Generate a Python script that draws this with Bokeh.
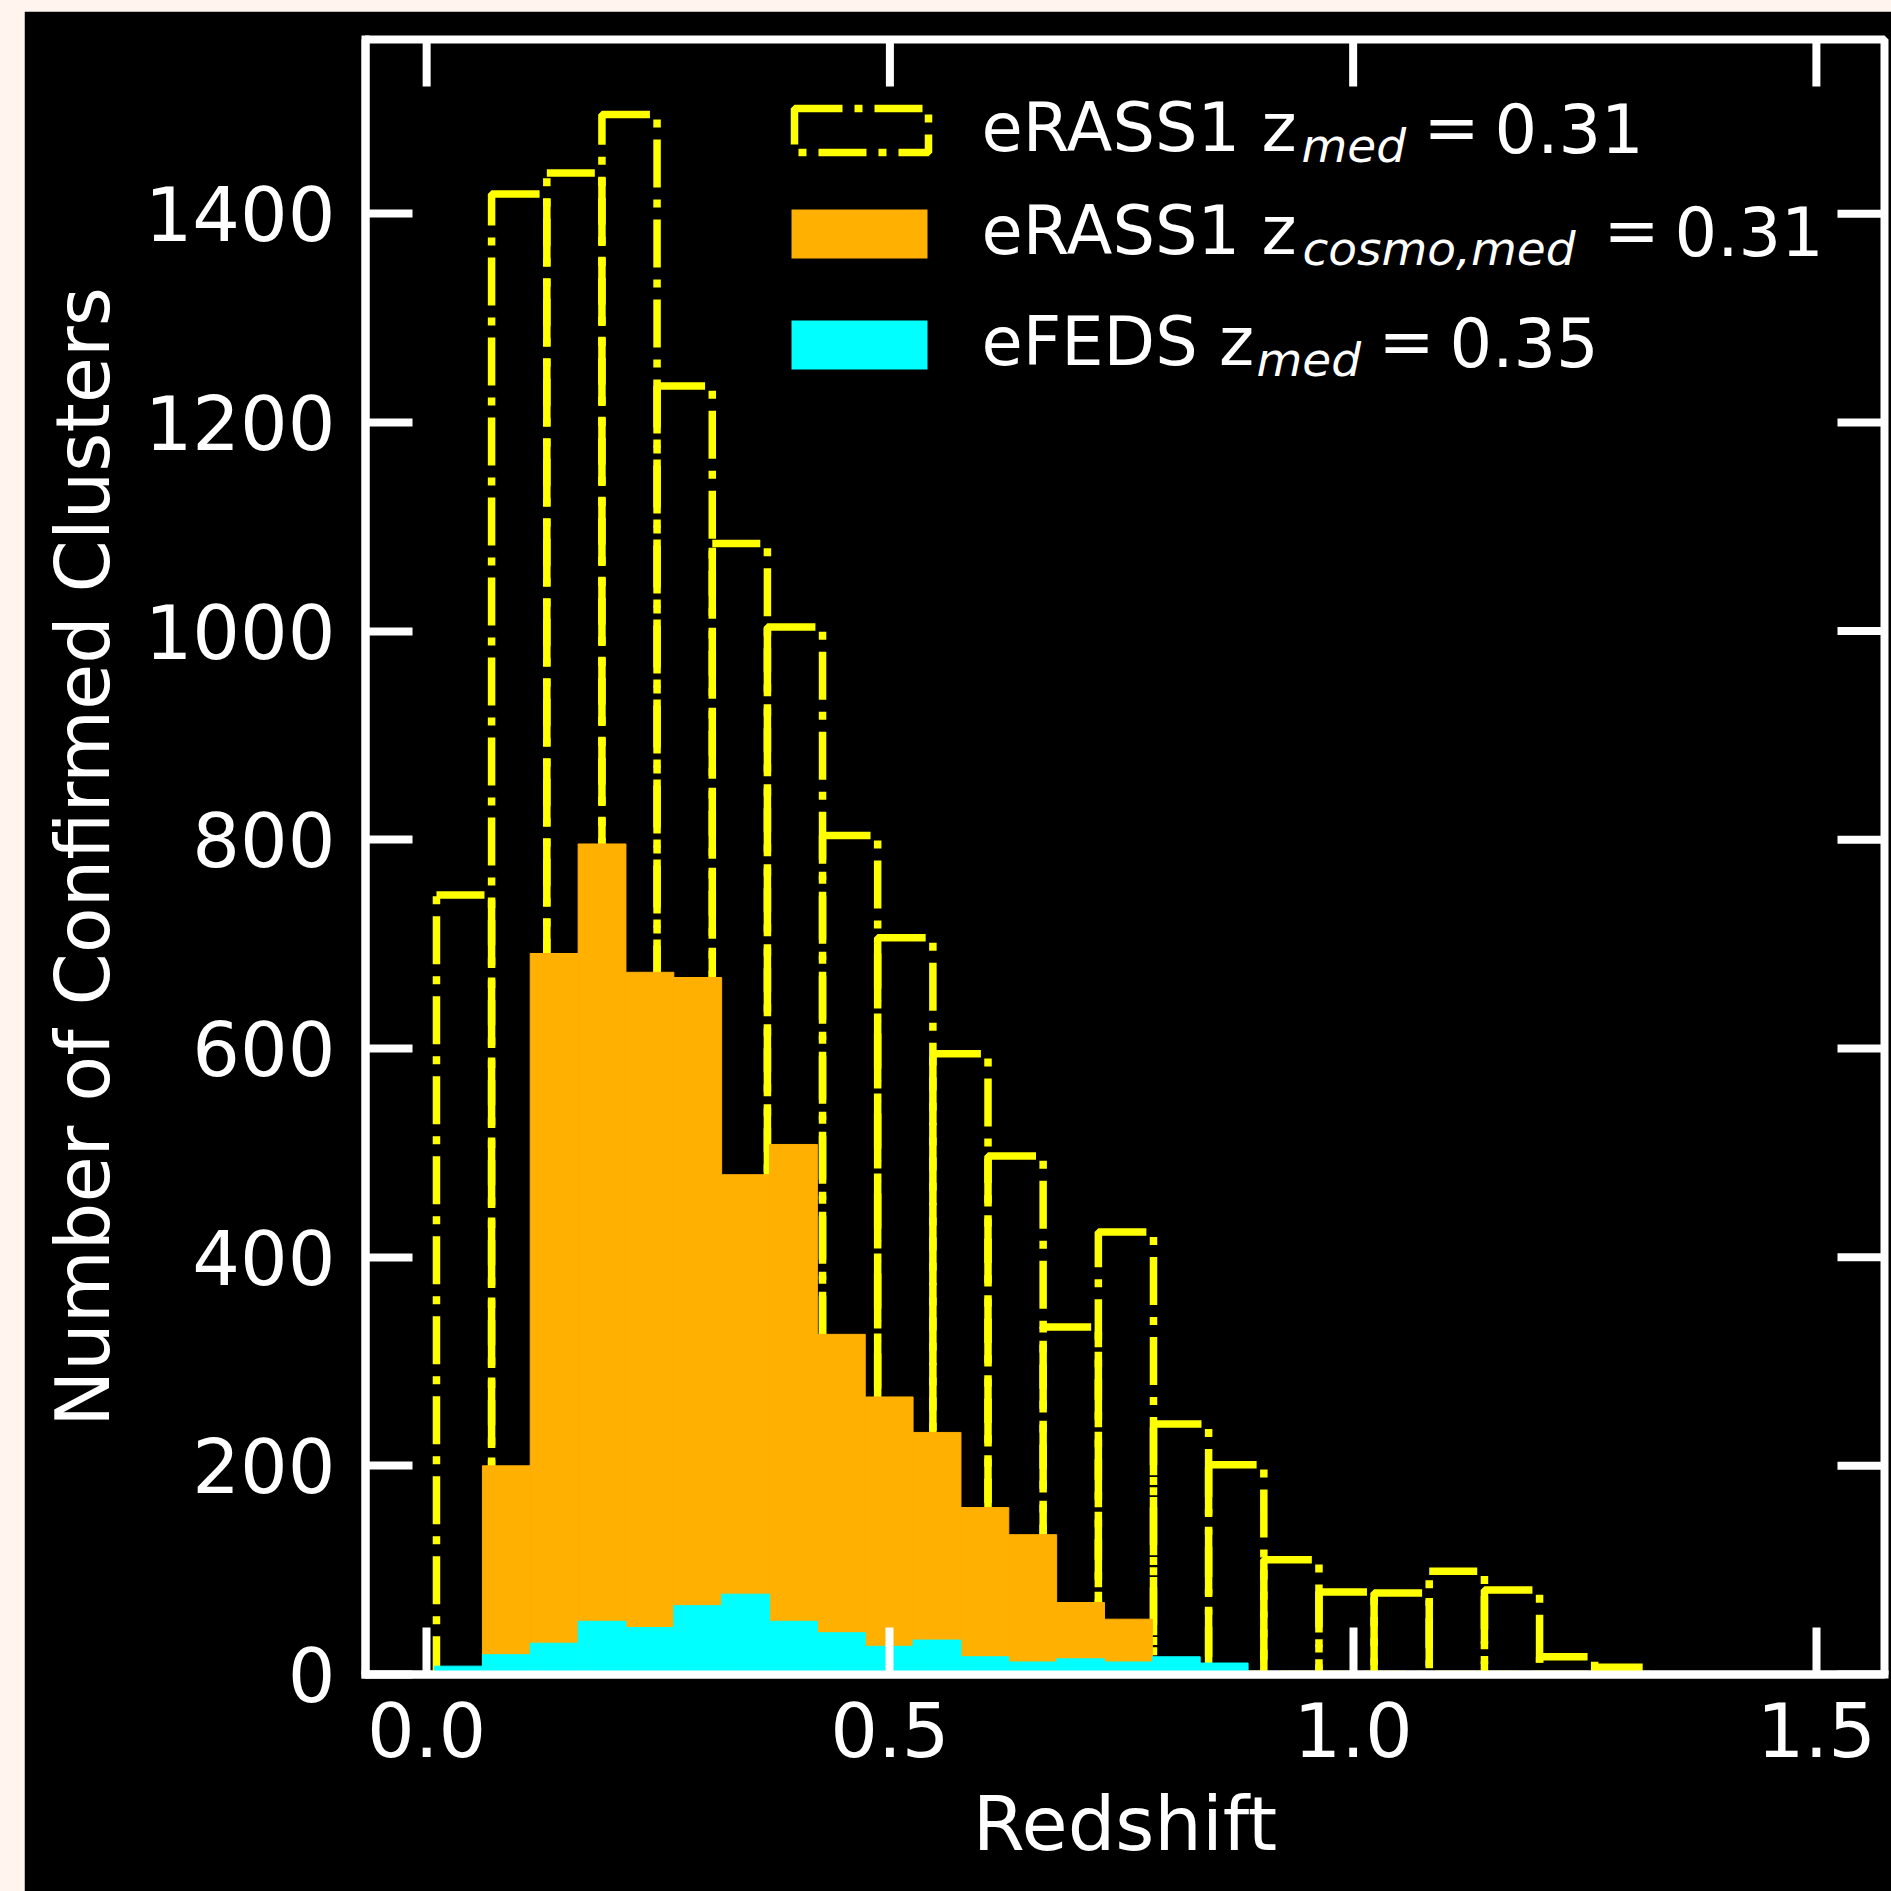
from bokeh.plotting import figure
from bokeh.models import (Range1d, FixedTicker, NumeralTickFormatter, Label, BoxAnnotation)
from bokeh.embed import file_html
from bokeh.resources import INLINE

# ---------------- data ----------------
# eRASS1 z : dash-dot outlined histogram
erass1_edges = [0.0106, 0.0701, 0.1297, 0.1892, 0.2487, 0.3083, 0.3678, 0.4273,
                0.4868, 0.5464, 0.6059, 0.6654, 0.7250, 0.7845, 0.8440, 0.9036,
                0.9631, 1.0226, 1.0821, 1.1417, 1.2012, 1.2607, 1.3203]
erass1_counts = [747, 1419, 1439, 1495, 1235, 1084, 1004, 804, 706, 595, 497,
                 333, 424, 240, 201, 110, 79, 78, 99, 81, 17, 7]

# eRASS1 z_cosmo : filled orange histogram
cosmo_edges = [0.0602, 0.1118, 0.1635, 0.2151, 0.2668, 0.3184, 0.3701, 0.4217,
               0.4734, 0.5250, 0.5767, 0.6283, 0.6800, 0.7316, 0.7833]
cosmo_counts = [200, 691, 796, 673, 668, 479, 508, 326, 266, 232, 160, 134, 69, 53]

# eFEDS z : filled cyan histogram
efeds_edges = [0.0085, 0.0602, 0.1118, 0.1635, 0.2151, 0.2668, 0.3184, 0.3701,
               0.4217, 0.4734, 0.5250, 0.5767, 0.6283, 0.6800, 0.7316, 0.7833,
               0.8349, 0.8866]
efeds_counts = [8, 19, 30, 51, 45, 66, 77, 51, 40, 27, 33, 17, 12, 15, 12, 17, 11]

x_ticks = [0.0, 0.5, 1.0, 1.5]
y_ticks = [0, 200, 400, 600, 800, 1000, 1200, 1400]

legend_labels = [("eRASS1 z", "med", "0.31"),
                 ("eRASS1 z", "cosmo,med", "0.31"),
                 ("eFEDS z", "med", "0.35")]

# ---------------- styling ----------------
X0, X1 = -0.066, 1.5735
Y0, Y1 = 0, 1567
YELLOW = "#ffff00"
ORANGE = "#ffb000"
CYAN = "#00ffff"
FONT = "DejaVu Sans"
TICK_FS = "75px"
LAB_FS = "75px"
LEG_PX, SUB_PX = 67, 47
DASHDOT = "48 12 8 12"
W, H = 1867, 1880
MB_L, MB_R, MB_T, MB_B = 341, 7, 28, 217
TICK_LEN = 47
SPINE_W = 8

p = figure(width=W, height=H, output_backend="svg", toolbar_location=None,
           x_range=Range1d(X0, X1), y_range=Range1d(Y0, Y1),
           background_fill_color="black", border_fill_color="black",
           min_border_left=MB_L, min_border_right=MB_R, min_border_top=MB_T,
           min_border_bottom=MB_B)
p.margin = (11, 0, 0, 24)
p.grid.visible = False
p.outline_line_color = "white"
p.outline_line_width = SPINE_W
p.outline_line_alpha = 1

try:
    from bokeh.models import GlobalInlineStyleSheet
    p.stylesheets = [GlobalInlineStyleSheet(css="body{background-color:#fff5ee;}")]
except Exception:
    pass

# histograms
p.quad(left=erass1_edges[:-1], right=erass1_edges[1:], bottom=0, top=erass1_counts,
       fill_color=None, line_color=YELLOW, line_width=7.5, line_dash=DASHDOT)
p.quad(left=cosmo_edges[:-1], right=cosmo_edges[1:], bottom=0, top=cosmo_counts,
       fill_color=ORANGE, line_color=ORANGE, line_width=1)
p.quad(left=efeds_edges[:-1], right=efeds_edges[1:], bottom=0, top=efeds_counts,
       fill_color=CYAN, line_color=CYAN, line_width=1)

# bottom / left axes
def style_axis(ax):
    ax.axis_line_color = "white"
    ax.axis_line_width = SPINE_W
    ax.axis_line_cap = "square"
    ax.major_tick_line_color = "white"
    ax.major_tick_line_width = SPINE_W
    ax.major_tick_in = TICK_LEN
    ax.major_tick_out = 0
    ax.minor_tick_line_color = None
    ax.major_label_text_color = "white"
    ax.major_label_text_font = FONT
    ax.major_label_text_font_size = TICK_FS
    ax.axis_label_text_color = "white"
    ax.axis_label_text_font = FONT
    ax.axis_label_text_font_size = LAB_FS
    ax.axis_label_text_font_style = "normal"

xb = p.xaxis[0]
yl = p.yaxis[0]
xb.ticker = FixedTicker(ticks=x_ticks)
xb.formatter = NumeralTickFormatter(format="0.0")
yl.ticker = FixedTicker(ticks=y_ticks)
style_axis(xb)
style_axis(yl)
xb.axis_label = "Redshift"
yl.axis_label = "Number of Confirmed Clusters"
xb.major_label_standoff = 27
xb.axis_label_standoff = 20
yl.major_label_standoff = 30
yl.axis_label_standoff = 15

# inward ticks on the top and right spines (mirroring the bottom / left ticks)
frame_w = W - MB_L - MB_R
frame_h = H - MB_T - MB_B
ty = TICK_LEN / frame_h * (Y1 - Y0)
tx = TICK_LEN / frame_w * (X1 - X0)
p.segment(x0=x_ticks, y0=[Y1] * len(x_ticks), x1=x_ticks, y1=[Y1 - ty] * len(x_ticks),
          line_color="white", line_width=SPINE_W)
p.segment(x0=[X1] * len(y_ticks), y0=y_ticks, x1=[X1 - tx] * len(y_ticks), y1=y_ticks,
          line_color="white", line_width=SPINE_W)

# ---------------- legend (placed in page pixels of the frame) ----------------
FR_L, FR_R, FR_T, FR_B = 365, 1884, 39, 1674
def dx(px):
    return X0 + (px - FR_L) / (FR_R - FR_L) * (X1 - X0)
def dy(py):
    return Y1 - (py - FR_T) / (FR_B - FR_T) * (Y1 - Y0)

p.add_layout(BoxAnnotation(left=dx(794), right=dx(928), top=dy(108), bottom=dy(152),
                           fill_color=None, fill_alpha=0, line_color=YELLOW,
                           line_alpha=1, line_width=7.5, line_dash=DASHDOT))
p.add_layout(BoxAnnotation(left=dx(791), right=dx(927), top=dy(209), bottom=dy(258),
                           fill_color=ORANGE, fill_alpha=1, line_color=None))
p.add_layout(BoxAnnotation(left=dx(791), right=dx(927), top=dy(320), bottom=dy(369),
                           fill_color=CYAN, fill_alpha=1, line_color=None))

rows = [  # baseline, sub x, "=" x, value x
    (151, 1301, 1423, 1494),
    (254, 1302, 1603, 1674),
    (365, 1256, 1378, 1449),
]
BASE_CORR = 0.35   # label anchor correction (fraction of font size)
for (main, sub, val), (base, sx, ex, vx) in zip(legend_labels, rows):
    for txt, x, y, fs, st in [(main, 981, base, LEG_PX, "normal"),
                              (sub, sx, base + 10, SUB_PX, "italic"),
                              ("=", ex, base, LEG_PX, "normal"),
                              (val, vx, base, LEG_PX, "normal")]:
        p.add_layout(Label(x=dx(x), y=dy(y - BASE_CORR * fs), text=txt, text_font=FONT,
                           text_font_size=f"{fs}px", text_font_style=st,
                           text_color="white", text_baseline="alphabetic",
                           text_align="left"))

open("out.html", "w").write(file_html(p, INLINE))
